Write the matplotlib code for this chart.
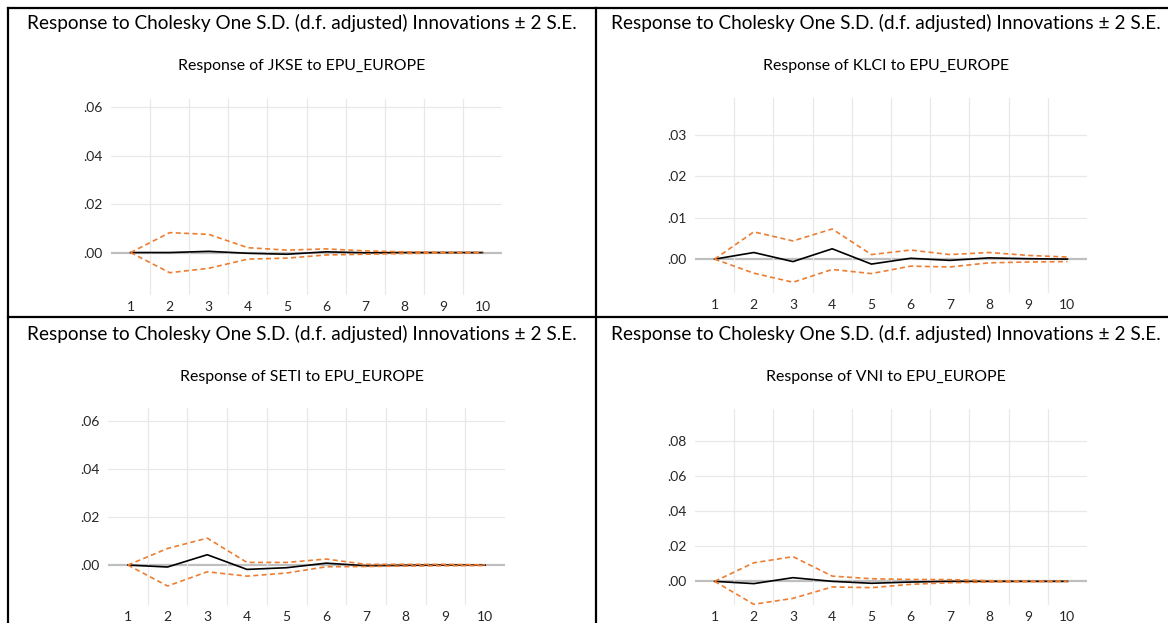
import matplotlib
matplotlib.use("Agg")
import matplotlib.pyplot as plt
from matplotlib.lines import Line2D
from matplotlib.ticker import FuncFormatter

plt.rcParams['font.family'] = ['Lato', 'DejaVu Sans']

# horizons
periods = [1, 2, 3, 4, 5, 6, 7, 8, 9, 10]

# JKSE
jkse_resp = [0, 0.0000, 0.0005, -0.0003, -0.0007, 0.0003, -0.0001, 0, 0, 0]
jkse_up = [0, 0.0082, 0.0075, 0.0020, 0.0010, 0.0015, 0.0007, 0.0003, 0.0001, 0.0001]
jkse_lo = [0, -0.0083, -0.0065, -0.0027, -0.0023, -0.0010, -0.0007, -0.0004, -0.0002, -0.0001]

# KLCI
klci_resp = [0, 0.0016, -0.0006, 0.0025, -0.0012, 0.0002, -0.0003, 0.0003, 0.0001, 0]
klci_up = [0, 0.0066, 0.0044, 0.0073, 0.0011, 0.0022, 0.0011, 0.0016, 0.0009, 0.0005]
klci_lo = [0, -0.0034, -0.0056, -0.0025, -0.0035, -0.0017, -0.0019, -0.0009, -0.0007, -0.0006]

# SETI
seti_resp = [0, -0.0008, 0.0043, -0.0018, -0.0011, 0.0008, -0.0003, -0.0001, 0, 0]
seti_up = [0, 0.0069, 0.0112, 0.0011, 0.0011, 0.0025, 0.0003, 0.0003, 0.0003, 0.0001]
seti_lo = [0, -0.0087, -0.0028, -0.0046, -0.0033, -0.0007, -0.0006, -0.0004, -0.0003, -0.0002]

# VNI
vni_resp = [0, -0.0013, 0.0021, 0.0000, -0.0011, -0.0004, 0, 0, 0, 0]
vni_up = [0, 0.0106, 0.0141, 0.0030, 0.0015, 0.0011, 0.0010, 0.0004, 0.0002, 0.0001]
vni_lo = [0, -0.0131, -0.0097, -0.0032, -0.0036, -0.0017, -0.0008, -0.0004, -0.0002, -0.0001]

W, H = 1168, 623
fig = plt.figure(figsize=(W / 100, H / 100), dpi=100)

main_title = "Response to Cholesky One S.D. (d.f. adjusted) Innovations \u00b1 2 S.E."

# (name, resp, up, lo, yticks, ylim, axes box in px [x0, y0, x1, y1], title center x, panel top y)
panels = [
    ("JKSE", jkse_resp, jkse_up, jkse_lo, [0, 0.02, 0.04, 0.06], (-0.0175, 0.0633),
     [111, 99, 502, 295], 302, 0),
    ("KLCI", klci_resp, klci_up, klci_lo, [0, 0.01, 0.02, 0.03], (-0.0082, 0.039),
     [695, 98, 1087, 293], 886, 0),
    ("SETI", seti_resp, seti_up, seti_lo, [0, 0.02, 0.04, 0.06], (-0.0166, 0.0653),
     [108, 408, 505, 605], 302, 311),
    ("VNI", vni_resp, vni_up, vni_lo, [0, 0.02, 0.04, 0.06, 0.08], (-0.0135, 0.0984),
     [695, 409, 1087, 605], 886, 311),
]


def fmt(v, pos):
    s = "%.2f" % v
    return s[1:] if s.startswith("0") else s


for name, resp, up, lo, yt, yl, box, tcx, top in panels:
    x0, y0, x1, y1 = box
    ax = fig.add_axes([x0 / W, 1 - y1 / H, (x1 - x0) / W, (y1 - y0) / H])
    ax.set_xlim(0.5, 10.5)
    ax.set_ylim(*yl)
    for yv in yt:
        ax.axhline(yv, color="#bfbfbf" if yv == 0 else "#e8e8e8",
                   lw=1.6 if yv == 0 else 0.9, zorder=0)
    for xv in [p + 0.5 for p in periods[:-1]]:
        ax.axvline(xv, color="#e8e8e8", lw=0.9, zorder=0)
    ax.plot(periods, resp, color="black", lw=1.2, zorder=3)
    ax.plot(periods, up, color="#ed7d31", lw=1.2, ls=(0, (3, 2)), zorder=4)
    ax.plot(periods, lo, color="#ed7d31", lw=1.2, ls=(0, (3, 2)), zorder=4)
    ax.set_xticks(periods)
    ax.set_yticks(yt)
    ax.yaxis.set_major_formatter(FuncFormatter(fmt))
    ax.tick_params(length=0, labelsize=10, colors="#262626")
    ax.tick_params(axis="x", pad=4)
    ax.tick_params(axis="y", pad=6)
    for s in ax.spines.values():
        s.set_visible(False)
    ax.patch.set_alpha(0)

    fig.text(tcx / W, 1 - (top + 23) / H, main_title, ha="center", va="center",
             fontsize=13.7, color="black")
    fig.text(tcx / W, 1 - (top + 66) / H, "Response of %s to EPU_EUROPE" % name,
             ha="center", va="center", fontsize=11.4, color="black")

# panel frame lines
border = dict(color="black", lw=1.6, transform=fig.transFigure)
fig.add_artist(Line2D([8 / W, 1], [1 - 8 / H, 1 - 8 / H], **border))
fig.add_artist(Line2D([8 / W, 1], [1 - 317 / H, 1 - 317 / H], **border))
fig.add_artist(Line2D([8 / W, 8 / W], [0, 1 - 8 / H], **border))
fig.add_artist(Line2D([596 / W, 596 / W], [0, 1 - 8 / H], **border))

fig.savefig("out.png", dpi=100)
